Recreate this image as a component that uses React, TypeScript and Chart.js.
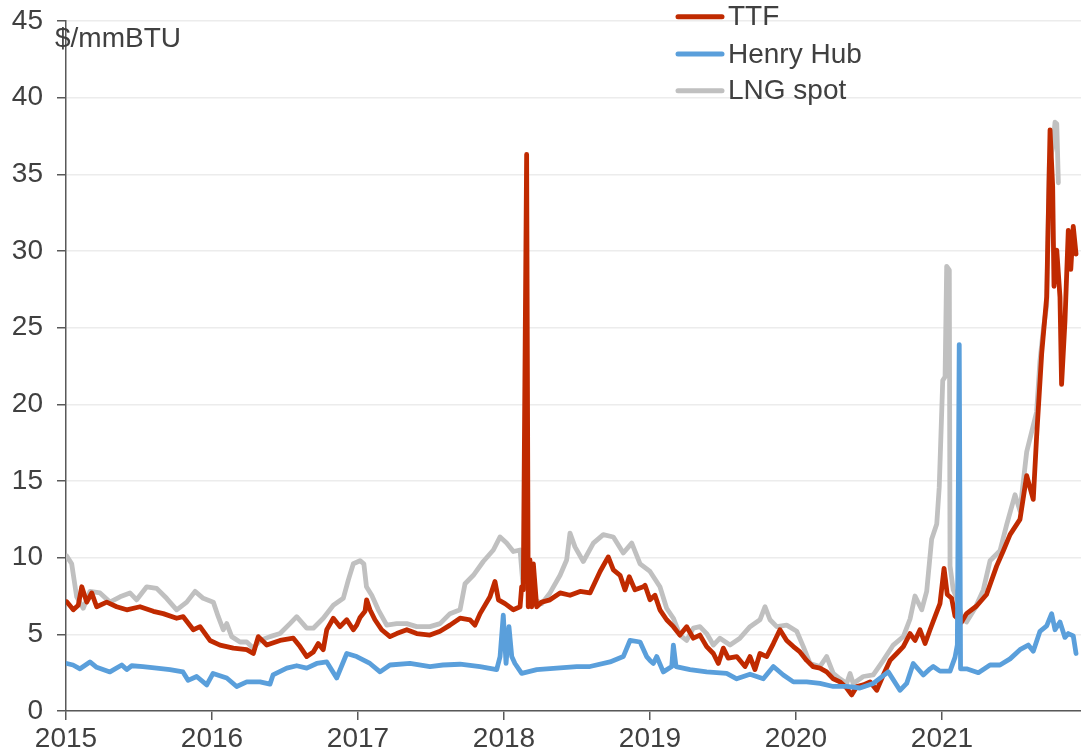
import React, { useEffect, useRef } from "react";
import { Chart, registerables } from "chart.js";

Chart.register(...registerables);

// [decimal year, $/mmBTU]
const TTF: [number, number][] = [
  [2015.005, 7.13], [2015.05, 6.6], [2015.084, 6.9], [2015.108, 8.1], [2015.142, 7.1], [2015.176, 7.7],
  [2015.21, 6.8], [2015.279, 7.1], [2015.347, 6.8], [2015.416, 6.6], [2015.507, 6.8], [2015.598, 6.5],
  [2015.666, 6.35], [2015.758, 6.05], [2015.803, 6.15], [2015.872, 5.3], [2015.918, 5.5], [2015.986, 4.6],
  [2016.055, 4.3], [2016.146, 4.1], [2016.238, 4.0], [2016.283, 3.75], [2016.317, 4.85], [2016.375, 4.3],
  [2016.466, 4.6], [2016.557, 4.75], [2016.603, 4.2], [2016.649, 3.55], [2016.694, 3.85], [2016.728, 4.4],
  [2016.762, 4.0], [2016.786, 5.3], [2016.831, 6.05], [2016.877, 5.5], [2016.923, 5.95], [2016.968, 5.3],
  [2016.991, 5.6], [2017.014, 6.1], [2017.048, 6.5], [2017.059, 7.25], [2017.082, 6.6], [2017.116, 5.95],
  [2017.162, 5.3], [2017.219, 4.85], [2017.265, 5.05], [2017.334, 5.3], [2017.402, 5.05], [2017.493, 4.95],
  [2017.562, 5.2], [2017.63, 5.6], [2017.699, 6.05], [2017.767, 5.95], [2017.801, 5.6], [2017.836, 6.35],
  [2017.904, 7.45], [2017.938, 8.45], [2017.962, 7.25], [2018.007, 7.0], [2018.064, 6.6], [2018.11, 6.8],
  [2018.121, 8.1], [2018.132, 7.9], [2018.155, 36.3], [2018.166, 6.8], [2018.178, 9.85], [2018.19, 6.8],
  [2018.201, 9.6], [2018.224, 6.8], [2018.258, 7.1], [2018.315, 7.25], [2018.384, 7.7], [2018.452, 7.55],
  [2018.521, 7.8], [2018.589, 7.7], [2018.658, 9.1], [2018.714, 10.05], [2018.749, 9.2], [2018.795, 8.85],
  [2018.829, 7.9], [2018.858, 8.75], [2018.897, 7.9], [2018.954, 8.1], [2018.966, 8.2], [2019.0, 7.25],
  [2019.034, 7.55], [2019.068, 6.6], [2019.114, 5.95], [2019.16, 5.5], [2019.205, 4.95], [2019.251, 5.5],
  [2019.297, 4.75], [2019.342, 4.95], [2019.388, 4.2], [2019.434, 3.75], [2019.468, 3.1], [2019.502, 4.1],
  [2019.536, 3.45], [2019.594, 3.55], [2019.651, 2.9], [2019.685, 3.55], [2019.719, 2.7], [2019.753, 3.75],
  [2019.799, 3.55], [2019.845, 4.4], [2019.89, 5.3], [2019.936, 4.6], [2019.982, 4.2], [2020.027, 3.85],
  [2020.073, 3.3], [2020.116, 2.9], [2020.164, 2.8], [2020.21, 2.55], [2020.255, 2.1], [2020.301, 1.9],
  [2020.347, 1.5], [2020.381, 1.05], [2020.416, 1.6], [2020.461, 1.7], [2020.507, 1.9], [2020.553, 1.35],
  [2020.598, 2.35], [2020.644, 3.3], [2020.69, 3.75], [2020.735, 4.2], [2020.781, 5.05], [2020.815, 4.6],
  [2020.849, 5.3], [2020.884, 4.4], [2020.918, 5.3], [2020.952, 6.15], [2020.986, 7.0], [2021.014, 9.3],
  [2021.036, 7.6], [2021.066, 7.35], [2021.089, 6.2], [2021.134, 5.8], [2021.168, 6.35], [2021.237, 6.85],
  [2021.305, 7.6], [2021.374, 9.45], [2021.42, 10.45], [2021.466, 11.5], [2021.534, 12.5], [2021.58, 15.35],
  [2021.625, 13.8], [2021.648, 17.9], [2021.683, 23.35], [2021.717, 27.0], [2021.74, 37.9], [2021.758, 34.2],
  [2021.767, 27.7], [2021.786, 30.05], [2021.808, 27.0], [2021.819, 21.3], [2021.842, 25.4], [2021.865, 31.35],
  [2021.882, 28.8], [2021.899, 31.6], [2021.918, 29.8],
];

const HENRY_HUB: [number, number][] = [
  [2015.005, 3.1], [2015.048, 3.0], [2015.096, 2.75], [2015.164, 3.2], [2015.21, 2.85], [2015.301, 2.55],
  [2015.382, 3.0], [2015.416, 2.7], [2015.45, 2.95], [2015.527, 2.9], [2015.621, 2.8], [2015.712, 2.7],
  [2015.801, 2.55], [2015.836, 2.0], [2015.895, 2.25], [2015.964, 1.7], [2016.007, 2.45], [2016.101, 2.15],
  [2016.169, 1.6], [2016.238, 1.9], [2016.329, 1.9], [2016.397, 1.75], [2016.418, 2.35], [2016.512, 2.8],
  [2016.58, 2.95], [2016.649, 2.8], [2016.717, 3.1], [2016.786, 3.2], [2016.854, 2.15], [2016.923, 3.75],
  [2016.991, 3.55], [2017.082, 3.1], [2017.151, 2.55], [2017.219, 3.0], [2017.356, 3.1], [2017.493, 2.9],
  [2017.582, 3.0], [2017.699, 3.05], [2017.836, 2.9], [2017.95, 2.7], [2017.973, 3.55], [2017.995, 6.25],
  [2018.014, 3.1], [2018.034, 5.5], [2018.053, 3.55], [2018.075, 3.1], [2018.121, 2.45], [2018.224, 2.7],
  [2018.361, 2.8], [2018.498, 2.9], [2018.589, 2.9], [2018.726, 3.2], [2018.817, 3.55], [2018.863, 4.6],
  [2018.932, 4.5], [2018.977, 3.55], [2019.0, 3.3], [2019.023, 3.1], [2019.046, 3.55], [2019.091, 2.55],
  [2019.149, 2.9], [2019.16, 4.3], [2019.178, 2.9], [2019.274, 2.7], [2019.388, 2.55], [2019.525, 2.45],
  [2019.594, 2.1], [2019.685, 2.4], [2019.776, 2.1], [2019.845, 2.9], [2019.913, 2.35], [2019.982, 1.9],
  [2020.073, 1.9], [2020.164, 1.8], [2020.255, 1.6], [2020.347, 1.6], [2020.438, 1.5], [2020.529, 1.8],
  [2020.632, 2.55], [2020.712, 1.35], [2020.758, 1.8], [2020.803, 3.1], [2020.872, 2.35], [2020.918, 2.75],
  [2020.94, 2.9], [2020.986, 2.6], [2021.055, 2.6], [2021.089, 3.5], [2021.105, 4.3], [2021.118, 23.9],
  [2021.127, 2.75], [2021.168, 2.75], [2021.249, 2.5], [2021.329, 3.0], [2021.397, 3.0], [2021.466, 3.4],
  [2021.534, 4.0], [2021.591, 4.3], [2021.625, 3.9], [2021.671, 5.2], [2021.717, 5.55], [2021.751, 6.35],
  [2021.774, 5.3], [2021.808, 5.8], [2021.842, 4.8], [2021.865, 5.05], [2021.899, 4.9], [2021.918, 3.75],
];

const LNG_SPOT: [number, number][] = [
  [2015.005, 10.1], [2015.039, 9.6], [2015.073, 7.45], [2015.118, 6.7], [2015.164, 7.8], [2015.233, 7.7],
  [2015.301, 7.1], [2015.37, 7.45], [2015.438, 7.7], [2015.484, 7.25], [2015.553, 8.1], [2015.621, 8.0],
  [2015.689, 7.35], [2015.758, 6.6], [2015.827, 7.1], [2015.884, 7.8], [2015.94, 7.35], [2016.009, 7.1],
  [2016.043, 6.15], [2016.077, 5.3], [2016.101, 5.7], [2016.135, 4.85], [2016.192, 4.5], [2016.238, 4.5],
  [2016.283, 4.1], [2016.329, 4.6], [2016.397, 4.85], [2016.466, 5.05], [2016.534, 5.7], [2016.58, 6.15],
  [2016.649, 5.4], [2016.694, 5.4], [2016.762, 6.05], [2016.831, 6.9], [2016.899, 7.35], [2016.934, 8.55],
  [2016.968, 9.6], [2017.014, 9.8], [2017.04, 9.6], [2017.058, 8.1], [2017.094, 7.55], [2017.139, 6.6],
  [2017.197, 5.6], [2017.265, 5.7], [2017.334, 5.7], [2017.402, 5.5], [2017.493, 5.5], [2017.562, 5.7],
  [2017.63, 6.35], [2017.699, 6.6], [2017.733, 8.3], [2017.79, 8.85], [2017.858, 9.75], [2017.927, 10.5],
  [2017.973, 11.35], [2018.018, 10.95], [2018.064, 10.4], [2018.11, 10.5], [2018.132, 8.0], [2018.166, 8.55],
  [2018.212, 7.25], [2018.258, 7.0], [2018.315, 7.7], [2018.384, 8.85], [2018.429, 9.85], [2018.452, 11.6],
  [2018.486, 10.7], [2018.543, 9.75], [2018.612, 10.95], [2018.68, 11.5], [2018.749, 11.35], [2018.817, 10.3],
  [2018.875, 10.95], [2018.932, 9.6], [2019.0, 9.1], [2019.068, 8.1], [2019.114, 6.7], [2019.16, 6.05],
  [2019.205, 4.95], [2019.251, 4.6], [2019.297, 5.4], [2019.342, 5.5], [2019.388, 5.05], [2019.434, 4.3],
  [2019.479, 4.75], [2019.548, 4.3], [2019.616, 4.75], [2019.685, 5.5], [2019.753, 5.95], [2019.788, 6.8],
  [2019.822, 5.95], [2019.868, 5.5], [2019.936, 5.6], [2020.005, 5.2], [2020.05, 4.2], [2020.096, 3.1],
  [2020.164, 2.9], [2020.21, 3.55], [2020.255, 2.45], [2020.301, 2.1], [2020.347, 1.8], [2020.37, 2.45],
  [2020.392, 1.8], [2020.461, 2.25], [2020.529, 2.35], [2020.598, 3.3], [2020.666, 4.3], [2020.735, 4.85],
  [2020.781, 6.0], [2020.815, 7.5], [2020.861, 6.6], [2020.895, 7.8], [2020.929, 11.2], [2020.964, 12.2],
  [2020.981, 14.6], [2021.005, 21.55], [2021.021, 21.8], [2021.032, 29.0], [2021.05, 28.75], [2021.055, 9.45],
  [2021.077, 7.9], [2021.112, 7.1], [2021.134, 6.1], [2021.168, 5.8], [2021.226, 6.7], [2021.283, 7.9],
  [2021.329, 9.8], [2021.397, 10.45], [2021.443, 12.15], [2021.5, 14.1], [2021.534, 13.05], [2021.58, 16.9],
  [2021.648, 19.5], [2021.671, 22.85], [2021.694, 24.9], [2021.717, 26.45], [2021.735, 35.7], [2021.758, 36.75],
  [2021.774, 38.4], [2021.786, 38.3], [2021.797, 34.45],
];

const SERIES_NAMES = ["TTF", "Henry Hub", "LNG spot"];
const SERIES_COLORS = ["#C02A00", "#5A9FDB", "#C0C0C0"];
const YEAR_TICKS = [2015, 2016, 2017, 2018, 2019, 2020, 2021];
const UNIT_LABEL = "$/mmBTU";

const FONT_FAMILY = "'Liberation Sans', Arial, sans-serif";
const TEXT_COLOR = "#404040";
const AXIS_COLOR = "#595959";

const overlayPlugin = {
  id: "overlay",
  afterDraw(chart: any) {
    const ctx = chart.ctx;
    ctx.save();
    ctx.font = `28px ${FONT_FAMILY}`;
    ctx.fillStyle = TEXT_COLOR;
    ctx.textBaseline = "alphabetic";
    ctx.textAlign = "left";
    ctx.fillText(UNIT_LABEL, 55, 47);

    const rows = [16.7, 54, 90.7];
    SERIES_NAMES.forEach((name, i) => {
      const y = rows[i];
      ctx.beginPath();
      ctx.strokeStyle = SERIES_COLORS[i];
      ctx.lineWidth = 5;
      ctx.lineCap = "round";
      ctx.moveTo(678, y);
      ctx.lineTo(722, y);
      ctx.stroke();
      ctx.fillStyle = TEXT_COLOR;
      ctx.textBaseline = "middle";
      ctx.fillText(name, 728, y + 1);
    });
    ctx.restore();
  },
};

export default function App() {
  const canvasRef = useRef<HTMLCanvasElement | null>(null);

  useEffect(() => {
    const canvas = canvasRef.current;
    if (!canvas) return;
    const toPts = (arr: [number, number][]) => arr.map(([x, y]) => ({ x, y }));
    const mk = (i: number, arr: [number, number][], order: number) => ({
      label: SERIES_NAMES[i],
      data: toPts(arr),
      borderColor: SERIES_COLORS[i],
      backgroundColor: SERIES_COLORS[i],
      borderWidth: 4.8,
      pointRadius: 0,
      tension: 0,
      borderJoinStyle: "round",
      borderCapStyle: "round",
      fill: false,
      order,
    });
    const chart = new Chart(canvas, {
      type: "line",
      data: {
        datasets: [mk(2, LNG_SPOT, 3), mk(0, TTF, 2), mk(1, HENRY_HUB, 1)] as any,
      },
      options: {
        animation: false,
        responsive: false,
        devicePixelRatio: 1,
        layout: { padding: { top: 21, right: 0, bottom: 0, left: 0 } },
        plugins: { legend: { display: false }, tooltip: { enabled: false } },
        scales: {
          x: {
            type: "linear",
            min: 2015,
            max: 2021.952,
            afterBuildTicks: (scale: any) => {
              scale.ticks = YEAR_TICKS.map((v) => ({ value: v }));
            },
            ticks: {
              autoSkip: false,
              maxRotation: 0,
              includeBounds: false,
              padding: 2,
              color: TEXT_COLOR,
              font: { family: FONT_FAMILY, size: 28 },
              callback: (v: any) => String(v),
            },
            grid: {
              drawOnChartArea: false,
              drawTicks: true,
              tickLength: 9,
              tickColor: AXIS_COLOR,
              lineWidth: 1.5,
            },
            border: { display: true, color: AXIS_COLOR, width: 1.5 },
            afterFit: (s: any) => {
              s.height = 42;
              s.paddingLeft = 0;
              s.paddingRight = 0;
            },
          },
          y: {
            min: 0,
            max: 45,
            ticks: {
              stepSize: 5,
              padding: 14,
              color: TEXT_COLOR,
              font: { family: FONT_FAMILY, size: 28 },
            },
            grid: {
              color: "#ececec",
              lineWidth: 1.5,
              tickColor: AXIS_COLOR,
              tickLength: 9,
            },
            border: { display: true, color: AXIS_COLOR, width: 1.5 },
            afterFit: (s: any) => {
              s.width = 66;
              s.paddingTop = 0;
              s.paddingBottom = 0;
            },
          },
        },
      } as any,
      plugins: [overlayPlugin],
    });
    return () => chart.destroy();
  }, []);

  return (
    <div style={{ position: "absolute", left: 0, top: 0, width: 1081, height: 753, background: "#fff" }}>
      <canvas ref={canvasRef} width={1081} height={753} />
    </div>
  );
}
